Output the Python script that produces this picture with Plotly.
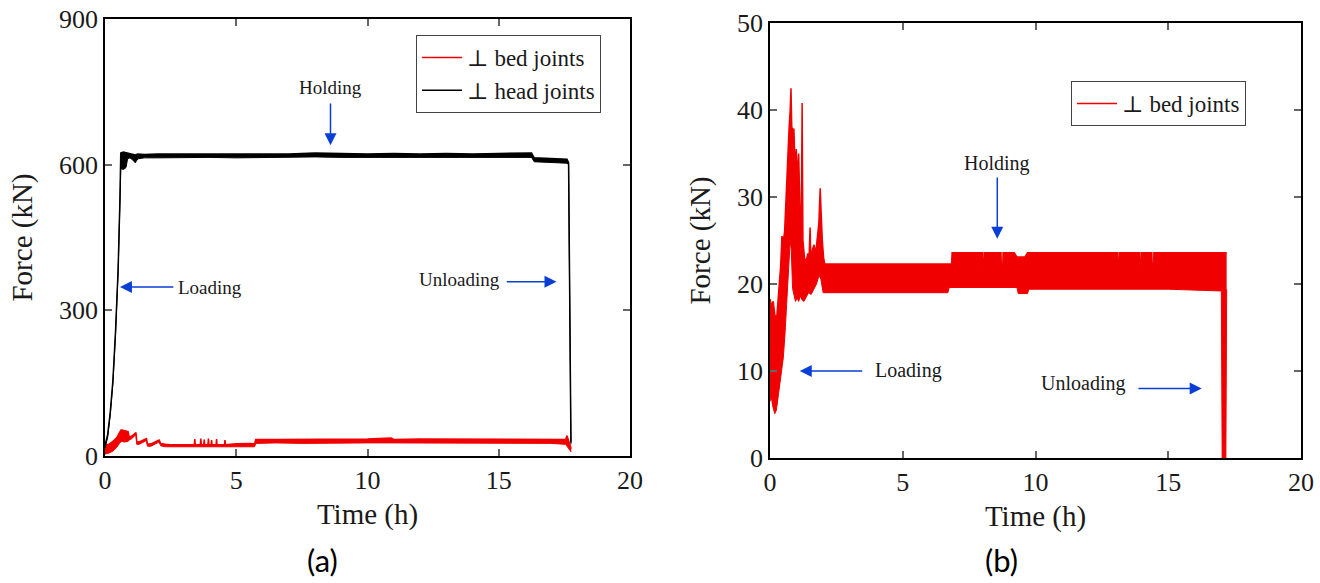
import plotly.graph_objects as go

# ---------------- Panel (a): both joint directions ----------------
# Time (h) with upper / lower extent of the recorded force (kN)
bed_a_t = [0.00, 0.15, 0.30, 0.45, 0.55, 0.62, 0.75, 0.88, 0.92, 1.00, 1.18, 1.21, 1.30, 1.58,
           1.62, 1.75, 2.06, 2.12, 2.30, 2.50, 3.00, 3.40, 3.42, 3.44, 3.63, 3.65, 3.67, 3.76,
           3.78, 3.80, 3.92, 3.94, 3.96, 4.04, 4.06, 4.08, 4.23, 4.25, 4.27, 4.55, 4.57, 4.59,
           5.00, 5.20, 5.50, 5.70, 5.74, 6.50, 7.50, 8.50, 10.0, 10.9, 11.0, 12.0, 13.0, 14.0,
           15.0, 16.0, 17.0, 17.55, 17.60, 17.66, 17.72, 17.76]
bed_a_hi = [22, 24, 30, 38, 48, 54, 52, 50, 40, 40, 48, 30, 29, 36,
            24, 25, 33, 26, 24, 23, 23, 23, 35, 23, 23, 36, 23, 23,
            34, 23, 23, 36, 23, 23, 33, 23, 23, 35, 23, 23, 33, 23,
            25, 26, 26, 25, 34, 34, 34, 35, 35, 37, 34, 35, 35, 35,
            35, 35, 35, 34, 42, 30, 22, 15]
bed_a_lo = [4, 6, 10, 18, 26, 30, 29, 30, 33, 35, 44, 24, 24, 32,
            20, 20, 29, 21, 19, 19, 19, 19, 19, 19, 19, 19, 19, 19,
            19, 19, 19, 19, 19, 19, 19, 19, 19, 19, 19, 19, 19, 19,
            19, 19, 19, 19, 26, 27, 26, 27, 27, 27, 27, 26, 27, 26,
            27, 26, 26, 24, 20, 15, 9, 8]

head_a_t = [0.00, 0.10, 0.20, 0.30, 0.40, 0.50, 0.57, 0.60, 0.70, 0.80, 0.86, 0.95, 1.05, 1.15,
            1.25, 1.5, 2, 3, 4, 5, 6, 7, 8, 9, 10, 11, 12, 13, 14, 15, 16, 16.25, 16.35,
            17.0, 17.6, 17.66, 17.75]
head_a_hi = [22, 44, 90, 155, 255, 385, 530, 624, 626, 625, 623, 622, 621, 620,
             622, 621, 622, 622, 623, 622, 623, 622, 624, 623, 622, 623, 622, 623, 622, 623, 624, 624, 614,
             612, 611, 604, 28]
head_a_lo = [16, 38, 84, 149, 249, 379, 524, 592, 590, 594, 612, 614, 610, 604,
             612, 614, 614, 615, 615, 614, 615, 615, 616, 615, 615, 615, 614, 615, 614, 615, 615, 615, 606,
             604, 603, 600, 24]

# ---------------- Panel (b): bed joints only ----------------
bed_b_hi_t = [0.00, 0.05, 0.12, 0.18, 0.25, 0.32, 0.40, 0.45, 0.50, 0.55, 0.60, 0.66, 0.72, 0.76,
              0.79, 0.82, 0.86, 0.90, 0.95, 0.99, 1.04, 1.08, 1.12, 1.17, 1.21, 1.24, 1.30, 1.36,
              1.42, 1.47, 1.51, 1.54, 1.60, 1.66, 1.72, 1.78, 1.84, 1.89, 1.93, 1.97, 2.02, 2.06,
              4.00, 6.84, 6.86, 7.50, 8.00, 8.02, 8.05, 8.07, 8.70, 8.72, 8.76, 8.78, 9.20, 9.30,
              9.60, 9.70, 11.0, 12.5, 13.08, 13.10, 13.13, 13.15, 13.92, 13.94, 13.97, 13.99,
              14.38, 14.40, 14.44, 14.46, 16.0, 17.20]
bed_b_hi = [18.3, 17.5, 18.0, 16.5, 16.0, 19.0, 22.0, 25.5, 25.0, 26.0, 30.0, 33.0, 38.0, 40.0,
            42.5, 38.0, 37.8, 37.8, 33.0, 35.5, 32.0, 35.0, 30.0, 23.0, 40.8, 25.0, 23.0, 22.5,
            23.5, 23.0, 26.5, 22.5, 24.0, 24.5, 23.5, 25.0, 27.0, 31.0, 27.5, 25.0, 23.0, 22.3,
            22.3, 22.3, 23.6, 23.6, 23.6, 21.4, 21.4, 23.6, 23.6, 21.3, 21.3, 23.6, 23.6, 23.1,
            23.1, 23.6, 23.6, 23.6, 23.6, 21.4, 21.4, 23.6, 23.6, 21.3, 21.3, 23.6,
            23.6, 21.4, 21.4, 23.6, 23.6, 23.6]

bed_b_lo_t = [0.00, 0.05, 0.10, 0.18, 0.24, 0.30, 0.40, 0.50, 0.56, 0.62, 0.70, 0.76, 0.80, 0.85,
              0.90, 0.96, 1.02, 1.08, 1.14, 1.20, 1.28, 1.36, 1.45, 1.55, 1.65, 1.75, 1.85, 1.92,
              2.00, 2.06, 4.00, 6.70, 6.75, 9.30, 9.35, 9.70, 9.75, 11.0, 13.0, 15.0,
              17.00, 17.03, 17.17, 17.20]
bed_b_lo = [6.5, 7.0, 6.0, 5.1, 5.5, 7.0, 9.0, 11.5, 14.0, 17.5, 22.0, 25.0, 24.0, 19.5,
            18.8, 18.0, 18.4, 18.0, 18.6, 18.2, 18.0, 18.5, 19.0, 18.8, 19.5, 20.0, 21.0, 20.5,
            19.0, 19.0, 19.0, 19.0, 19.6, 19.6, 18.9, 18.9, 19.4, 19.4, 19.4, 19.4,
            19.2, 0.0, 0.0, 19.4]

RED = "#f00000"
SERIF = "Liberation Serif, DejaVu Serif, serif"
BLUE = "#0a3fd6"
INK = "#1a1a1a"

fig = go.Figure()


def band(t_hi, hi, t_lo, lo, color, name, xa, ya, legend):
    # upper edge carries the legend entry, lower edge fills up to it
    fig.add_trace(go.Scatter(x=t_hi, y=hi, mode="lines", name=name,
                             line=dict(color=color, width=1.5),
                             xaxis=xa, yaxis=ya, legend=legend, showlegend=True))
    fig.add_trace(go.Scatter(x=t_lo, y=lo, mode="lines", name=name,
                             line=dict(color=color, width=1), fill="tonexty",
                             fillcolor=color, xaxis=xa, yaxis=ya, showlegend=False))


band(bed_a_t, bed_a_hi, bed_a_t, bed_a_lo, RED, "⊥ bed joints", "x", "y", "legend")
band(head_a_t, head_a_hi, head_a_t, head_a_lo, "black", "⊥ head joints", "x", "y", "legend")
band(bed_b_hi_t, bed_b_hi, bed_b_lo_t, bed_b_lo, RED, "⊥ bed joints", "x2", "y2", "legend2")

axis_common = dict(showline=True, linecolor="black", linewidth=1.5, mirror="ticks",
                   ticks="inside", ticklen=7, tickcolor="#666", tickwidth=1.5,
                   showgrid=False, zeroline=False, automargin=False,
                   tickfont=dict(family=SERIF, size=26, color=INK),
                   title_font=dict(family=SERIF, size=29, color=INK))

legend_common = dict(xanchor="left", yanchor="top", traceorder="normal", itemwidth=40,
                     bordercolor="#444", borderwidth=1, bgcolor="white",
                     font=dict(family=SERIF, size=23, color=INK))

fig.update_layout(
    width=1320, height=583, margin=dict(l=0, r=0, t=0, b=0, autoexpand=False),
    paper_bgcolor="white", plot_bgcolor="white",
    xaxis=dict(domain=[105 / 1320, 630 / 1320], range=[0, 20], tickvals=[0, 5, 10, 15, 20],
               anchor="y", title=dict(text="Time (h)", standoff=10), **axis_common),
    yaxis=dict(domain=[1 - 456 / 583, 1 - 19 / 583], range=[0, 900], tickvals=[0, 300, 600, 900],
               anchor="x", title=dict(text="Force (kN)", standoff=18), **axis_common),
    xaxis2=dict(domain=[770 / 1320, 1301 / 1320], range=[0, 20], tickvals=[0, 5, 10, 15, 20],
                anchor="y2", title=dict(text="Time (h)", standoff=10), **axis_common),
    yaxis2=dict(domain=[1 - 458 / 583, 1 - 23 / 583], range=[0, 50], tickvals=[0, 10, 20, 30, 40, 50],
                anchor="x2", title=dict(text="Force (kN)", standoff=18), **axis_common),
    legend=dict(x=416 / 1320, y=1 - 35 / 583, **legend_common),
    legend2=dict(x=1071 / 1320, y=1 - 81 / 583, **legend_common),
)

ann = []
# phase labels and arrows
labels_a = [("Holding", 8.6, 758), ("Loading", 4.0, 348), ("Unloading", 13.5, 364)]
arrows_a = [(8.59, 640, 8.59, 729), (0.57, 348, 2.66, 348), (17.2, 359, 15.25, 359)]
labels_b = [("Holding", 8.55, 33.8), ("Loading", 5.2, 10.1), ("Unloading", 11.8, 8.6)]
arrows_b = [(8.56, 25.2, 8.56, 32.4), (1.12, 10.0, 3.53, 10.0), (16.26, 8.0, 13.82, 8.0)]

for (txt, x, y), (hx, hy, tx, ty) in zip(labels_a, arrows_a):
    ann.append(dict(x=x, y=y, xref="x", yref="y", text=txt, showarrow=False,
                    font=dict(family=SERIF, size=19, color=INK)))
    ann.append(dict(x=hx, y=hy, ax=tx, ay=ty, xref="x", yref="y", axref="x", ayref="y",
                    text="", showarrow=True, arrowhead=2, arrowsize=1.6, arrowwidth=1.5,
                    arrowcolor=BLUE))
for (txt, x, y), (hx, hy, tx, ty) in zip(labels_b, arrows_b):
    ann.append(dict(x=x, y=y, xref="x2", yref="y2", text=txt, showarrow=False,
                    font=dict(family=SERIF, size=20, color=INK)))
    ann.append(dict(x=hx, y=hy, ax=tx, ay=ty, xref="x2", yref="y2", axref="x2", ayref="y2",
                    text="", showarrow=True, arrowhead=2, arrowsize=1.6, arrowwidth=1.5,
                    arrowcolor=BLUE))

# panel captions
for cap, cx in (("(a)", 322), ("(b)", 1002)):
    ann.append(dict(x=cx / 1320, y=1 - 560 / 583, xref="paper", yref="paper", text=cap,
                    xanchor="center", yanchor="middle", showarrow=False,
                    font=dict(family="Lato, Noto Sans, sans-serif", size=31, color="black")))
fig.update_layout(annotations=ann)

fig.write_html("out.html")
